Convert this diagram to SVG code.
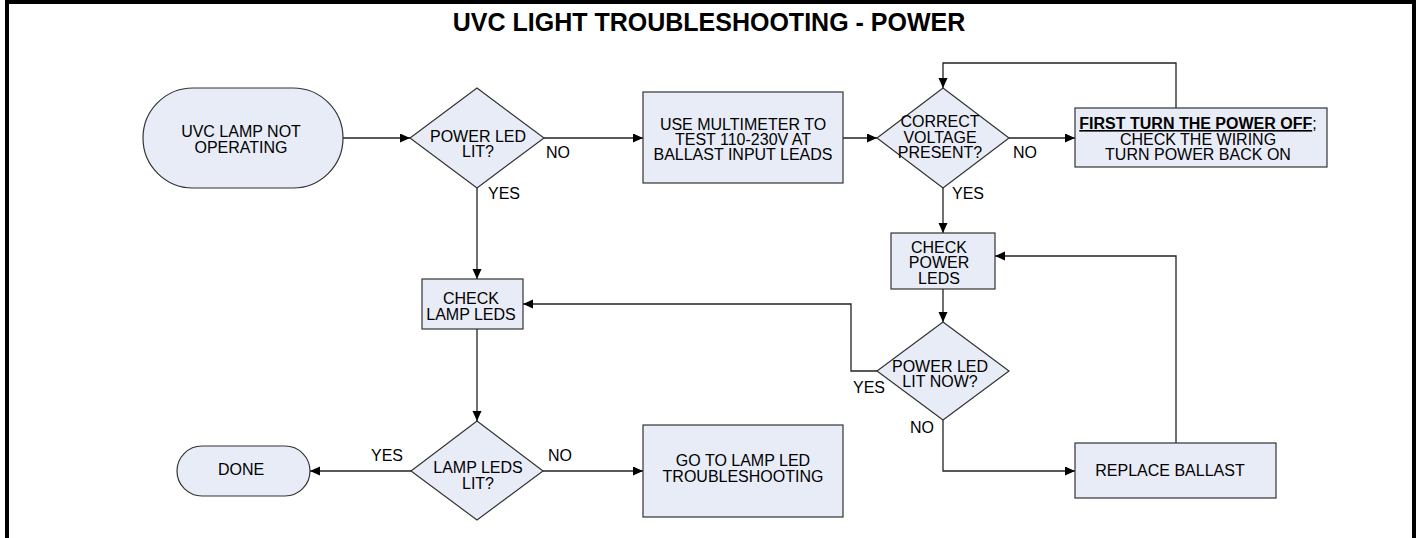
<svg xmlns="http://www.w3.org/2000/svg" width="1421" height="538" viewBox="0 0 1421 538">
<style>
text{font-family:"Liberation Sans",Arial,sans-serif;font-size:16px;fill:#000}
.t{text-anchor:middle}
.title{font-size:25px;font-weight:bold;text-anchor:middle}
.shape{fill:#E8ECF7;stroke:#333;stroke-width:1.2}
.con{fill:none;stroke:#222;stroke-width:1.3;marker-end:url(#ah)}
.line{fill:none;stroke:#222;stroke-width:1.3}
</style>
<defs>
<marker id="ah" markerUnits="userSpaceOnUse" markerWidth="11" markerHeight="10" refX="10" refY="4.5" orient="auto">
<path d="M0,0 L10,4.5 L0,9 z" fill="#000"/>
</marker>
</defs>
<rect x="0" y="0" width="1421" height="538" fill="#fff"/>
<path d="M7,540 V2 H1414 V540" fill="none" stroke="#000" stroke-width="4"/>
<text class="title" x="709" y="31">UVC LIGHT TROUBLESHOOTING - POWER</text>

<g id="connectors">
<path class="con" d="M343,138 H410"/>
<path class="con" d="M543,138 H643"/>
<path class="con" d="M843,138 H877"/>
<path class="con" d="M1009,138 H1075"/>
<path class="con" d="M1176,108 V63 H943 V88"/>
<path class="con" d="M943,188 V233"/>
<path class="con" d="M943,289 V322"/>
<path class="con" d="M877,371 H851 V304 H523"/>
<path class="con" d="M943,420 V471 H1075"/>
<path class="con" d="M1176,443 V256 H995"/>
<path class="con" d="M477,188 V279"/>
<path class="con" d="M477,329 V421"/>
<path class="con" d="M411,471 H310"/>
<path class="con" d="M543,471 H643"/>
<text x="546" y="158">NO</text>
<text x="488" y="199">YES</text>
<text x="1013" y="158">NO</text>
<text x="952" y="199">YES</text>
<text x="853" y="393">YES</text>
<text x="910" y="433">NO</text>
<text x="371" y="461">YES</text>
<text x="548" y="461">NO</text>
</g>

<g id="start">
<rect class="shape" x="143" y="88" width="200" height="100" rx="50" ry="50"/>
<text class="t" x="241" y="137">UVC LAMP NOT</text>
<text class="t" x="241" y="153">OPERATING</text>
</g>

<g id="d-power-led">
<path class="shape" d="M477,88 L544,138 L477,188 L410,138 Z"/>
<text class="t" x="478" y="142">POWER LED</text>
<text class="t" x="478" y="157">LIT?</text>
</g>

<g id="multimeter">
<rect class="shape" x="643" y="92" width="200" height="91"/>
<text class="t" x="743" y="129.5">USE MULTIMETER TO</text>
<text class="t" x="743" y="144.5">TEST 110-230V AT</text>
<text class="t" x="743" y="160">BALLAST INPUT LEADS</text>
</g>

<g id="d-voltage">
<path class="shape" d="M943,88 L1009,138 L943,188 L877,138 Z"/>
<text class="t" x="940" y="127">CORRECT</text>
<text class="t" x="940" y="142.5">VOLTAGE</text>
<text class="t" x="940" y="158">PRESENT?</text>
</g>

<g id="wiring">
<rect class="shape" x="1075" y="108" width="252" height="59"/>
<text class="t" x="1198" y="129"><tspan font-weight="bold" text-decoration="underline">FIRST TURN THE POWER OFF</tspan>;</text>
<text class="t" x="1198" y="144.5">CHECK THE WIRING</text>
<text class="t" x="1198" y="160">TURN POWER BACK ON</text>
</g>

<g id="check-power">
<rect class="shape" x="891" y="233" width="104" height="56"/>
<text class="t" x="939" y="252.5">CHECK</text>
<text class="t" x="939" y="268">POWER</text>
<text class="t" x="939" y="283.5">LEDS</text>
</g>

<g id="d-power-now">
<path class="shape" d="M943,322 L1009,371 L943,420 L877,371 Z"/>
<text class="t" x="940" y="371.5">POWER LED</text>
<text class="t" x="940" y="386.5">LIT NOW?</text>
</g>

<g id="check-lamp">
<rect class="shape" x="422" y="279" width="101" height="50"/>
<text class="t" x="471" y="304">CHECK</text>
<text class="t" x="471" y="320">LAMP LEDS</text>
</g>

<g id="d-lamp">
<path class="shape" d="M477,421 L543,471 L477,520 L411,471 Z"/>
<text class="t" x="478" y="473">LAMP LEDS</text>
<text class="t" x="478" y="489">LIT?</text>
</g>

<g id="done">
<rect class="shape" x="177" y="446" width="133" height="50" rx="25" ry="25"/>
<text class="t" x="241" y="475">DONE</text>
</g>

<g id="goto">
<rect class="shape" x="643" y="425" width="200" height="92"/>
<text class="t" x="743" y="465.5">GO TO LAMP LED</text>
<text class="t" x="743" y="481.5">TROUBLESHOOTING</text>
</g>

<g id="ballast">
<rect class="shape" x="1075" y="443" width="201" height="55"/>
<text class="t" x="1170" y="476">REPLACE BALLAST</text>
</g>
</svg>
